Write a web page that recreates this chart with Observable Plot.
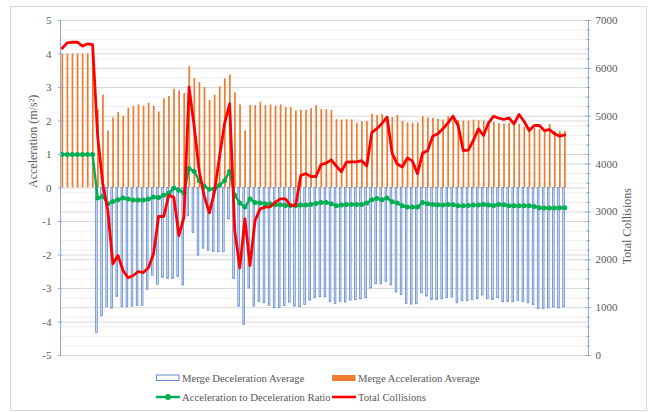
<!DOCTYPE html>
<html>
<head>
<meta charset="utf-8">
<script src="https://cdn.jsdelivr.net/npm/d3@7"></script>
<script src="https://cdn.jsdelivr.net/npm/@observablehq/plot@0.6"></script>
<style>
  html, body { margin: 0; padding: 0; background: #fff; }
  #wrap { position: relative; width: 651px; height: 412px; font-family: "Liberation Serif", "Times New Roman", serif; }
  #frame { position: absolute; left: 10px; top: 6px; width: 637px; height: 405px; box-sizing: border-box; border: 1px solid #d9d9d9; }
  #chart { position: absolute; left: 0; top: 0; }
  #legend { position: absolute; left: 156px; top: 369px; display: grid; grid-template-columns: 176px auto; grid-auto-rows: 18.5px; font-size: 10.7px; color: #595959; font-family: "Liberation Serif", serif; }
  .it { display: flex; align-items: center; white-space: nowrap; }
  .sw { width: 24px; height: 10px; margin-right: 2px; flex: none; }
</style>
</head>
<body>
<div id="wrap">
  <div id="frame"></div>
  <div id="chart"></div>
  <div id="legend"></div>
</div>
<script>
// ---- data ----
const seriesNames = ["Merge Deceleration Average", "Merge Acceleration Average", "Acceleration to Deceleration Ratio", "Total Collisions"];
const leftTitle = "Acceleration (m/s²)";
const rightTitle = "Total Collisions";
const leftTicks = [-5, -4, -3, -2, -1, 0, 1, 2, 3, 4, 5];
const rightTicks = [0, 1000, 2000, 3000, 4000, 5000, 6000, 7000];
const rightMinorTicks = [200,400,600,800,1200,1400,1600,1800,2200,2400,2600,2800,3200,3400,3600,3800,4200,4400,4600,4800,5200,5400,5600,5800,6200,6400,6600,6800];
const slotCount = 104; // category slots on the axis (last ones empty)

const accel = [4.0,4.0,4.0,4.0,4.0,4.0,4.0,2.33,2.77,1.70,2.09,2.25,2.14,2.38,2.44,2.48,2.44,2.53,2.44,2.27,
  2.66,2.73,2.95,2.89,2.82,3.62,3.27,3.15,3.00,2.61,2.77,3.02,3.26,3.37,2.84,2.48,1.71,2.46,2.46,2.56,
  2.46,2.48,2.44,2.48,2.40,2.40,2.30,2.32,2.32,2.37,2.46,2.34,2.34,2.31,2.04,2.03,2.04,2.03,1.93,1.98,
  1.98,2.20,2.16,2.19,2.14,2.10,2.16,1.99,1.94,1.93,1.94,2.13,2.09,2.08,2.05,2.03,2.12,2.01,2.01,2.00,
  2.00,2.03,2.01,2.00,1.94,1.96,1.92,1.90,1.93,1.90,1.90,1.81,1.79,1.78,1.74,1.74,1.90,1.68,1.68,1.68];

const decel = [null,null,null,null,null,null,null,-4.33,-3.83,-3.55,-3.60,-3.25,-3.56,-3.56,-3.54,-3.52,-3.52,-3.04,-2.62,-2.89,
  -2.68,-2.71,-2.71,-2.65,-2.91,-0.84,-1.34,-2.02,-1.81,-1.87,-1.91,-1.92,-1.92,-0.94,-2.71,-3.54,-4.09,-3.00,-3.54,-3.40,
  -3.44,-3.52,-3.59,-3.59,-3.52,-3.42,-3.54,-3.56,-3.49,-3.36,-3.29,-3.26,-3.26,-3.40,-3.46,-3.40,-3.42,-3.36,-3.34,-3.32,
  -3.29,-3.00,-2.87,-2.88,-2.80,-2.91,-3.12,-3.20,-3.46,-3.48,-3.47,-3.14,-3.24,-3.34,-3.34,-3.32,-3.29,-3.27,-3.44,-3.38,
  -3.38,-3.34,-3.32,-3.21,-3.32,-3.34,-3.29,-3.41,-3.40,-3.41,-3.37,-3.41,-3.44,-3.50,-3.62,-3.61,-3.59,-3.56,-3.59,-3.56];

const ratio = [1.0,1.0,1.0,1.0,1.0,1.0,1.0,-0.30,-0.25,-0.47,-0.40,-0.35,-0.30,-0.33,-0.36,-0.36,-0.36,-0.33,-0.27,-0.28,
  -0.22,-0.16,0.0,-0.07,-0.14,0.58,0.50,0.22,0.05,-0.04,-0.02,0.08,0.22,0.50,-0.22,-0.45,-0.57,-0.33,-0.43,-0.45,
  -0.47,-0.48,-0.50,-0.50,-0.52,-0.52,-0.52,-0.51,-0.51,-0.49,-0.46,-0.43,-0.43,-0.47,-0.53,-0.51,-0.49,-0.49,-0.49,-0.49,
  -0.45,-0.35,-0.31,-0.35,-0.30,-0.41,-0.45,-0.53,-0.57,-0.57,-0.57,-0.43,-0.47,-0.49,-0.50,-0.51,-0.49,-0.50,-0.53,-0.53,
  -0.52,-0.51,-0.51,-0.49,-0.51,-0.52,-0.49,-0.50,-0.53,-0.53,-0.53,-0.53,-0.53,-0.55,-0.59,-0.60,-0.60,-0.60,-0.59,-0.59];

const collisions = [6421,6533,6546,6546,6463,6512,6498,4580,3590,3030,1916,2089,1776,1623,1672,1755,1734,1832,2124,2904,
  2904,3343,3308,2507,2890,5606,4800,3850,3330,2980,3420,4150,4850,5260,2611,1832,2856,1880,2821,3065,
  3100,3107,3204,3274,3274,3134,3134,3761,3800,3740,3740,3990,4020,4088,3960,3840,4040,4045,4045,4070,
  3960,4660,4740,4850,4980,4230,4000,3940,4130,4060,3800,4227,4283,4582,4632,4736,4862,5000,4806,4283,
  4290,4493,4736,4597,4862,5000,4958,4931,4966,4841,5035,4889,4701,4806,4806,4701,4722,4632,4582,4611];

// ---- colours ----
const C = { blueStroke: "#6189d4", blueFill: "#d6e1f5", orange: "#ed7d31", green: "#00b050", red: "#ff0000", axis: "#8eaadb", grid: "#d9d9d9", gridMinor: "#eeeeee", text: "#595959" };
const SERIF = "'Liberation Serif', 'Times New Roman', serif";

// right axis (collisions 0..7000) shares the plot's y scale (-5..5)
const toLeft = c => c / 700 - 5;
const fromLeft = v => Math.round((v + 5) * 700);

const data = accel.map((a, i) => ({ i, acc: a, dec: decel[i], ratio: ratio[i], col: collisions[i] }));
const xDomain = [-0.32, slotCount - 0.32];

const plot = Plot.plot({
  width: 651,
  height: 362,
  marginLeft: 60,
  marginRight: 63,
  marginTop: 20,
  marginBottom: 7,
  x: { type: "linear", domain: xDomain, axis: null },
  y: { domain: [-5, 5], axis: null },
  style: { fontFamily: SERIF, fontSize: "11px", color: C.text, background: "transparent", overflow: "visible" },
  marks: [
    Plot.ruleY(rightMinorTicks, { y: toLeft, stroke: C.gridMinor, strokeWidth: 1 }),
    Plot.ruleY(rightTicks, { y: toLeft, stroke: C.grid, strokeWidth: 1 }),
    Plot.ruleY(leftTicks, { stroke: C.grid, strokeWidth: 1 }),
    Plot.rect(data.filter(d => d.dec != null), { x1: d => d.i - 0.30, x2: d => d.i + 0.02, y1: 0, y2: "dec", fill: C.blueFill, stroke: C.blueStroke, strokeWidth: 0.8 }),
    Plot.rect(data, { x1: d => d.i - 0.03, x2: d => d.i + 0.31, y1: 0, y2: "acc", fill: C.orange }),
    Plot.line(data, { x: "i", y: "ratio", stroke: C.green, strokeWidth: 2.4 }),
    Plot.dot(data, { x: "i", y: "ratio", r: 2.5, fill: C.green }),
    Plot.line(data, { x: "i", y: d => toLeft(d.col), stroke: C.red, strokeWidth: 2.8, strokeLinejoin: "round" }),
    // axis lines
    Plot.ruleX([xDomain[0]], { stroke: C.axis, strokeWidth: 1 }),
    Plot.ruleX([xDomain[1]], { stroke: C.axis, strokeWidth: 1 }),
    // tick marks
    Plot.ruleY(leftTicks, { x1: xDomain[0] - 0.4, x2: xDomain[0] + 0.4, stroke: C.axis }),
    Plot.ruleY(rightTicks, { y: toLeft, x1: xDomain[1] - 0.55, x2: xDomain[1] + 0.55, stroke: C.axis }),
    Plot.ruleY(rightMinorTicks, { y: toLeft, x1: xDomain[1] - 0.35, x2: xDomain[1] + 0.35, stroke: C.axis }),
    // tick labels
    Plot.axisY(leftTicks, { anchor: "left", tickSize: 0, tickPadding: 9, tickFormat: d => String(d), fontSize: 11, fontFamily: SERIF, fill: C.text, label: null }),
    Plot.axisY(rightTicks.map(toLeft), { anchor: "right", tickSize: 0, tickPadding: 7, tickFormat: v => String(fromLeft(v)), fontSize: 11, fontFamily: SERIF, fill: C.text, label: null }),
    // axis titles
    Plot.text([leftTitle], { frameAnchor: "left", dx: -27, rotate: -90, fontSize: 12, fontFamily: SERIF, fill: C.text }),
    Plot.text([rightTitle], { frameAnchor: "right", dx: 39, rotate: -90, fontSize: 12, fontFamily: SERIF, fill: C.text })
  ]
});
document.getElementById("chart").appendChild(plot);

// ---- legend ----
const swatches = [
  `<svg class="sw" viewBox="0 0 24 10"><rect x="0.5" y="2" width="22.5" height="5.5" fill="#fff" stroke="${C.blueStroke}" stroke-width="1"/></svg>`,
  `<svg class="sw" viewBox="0 0 24 10"><rect x="0" y="2" width="23.5" height="6" fill="${C.orange}"/></svg>`,
  `<svg class="sw" viewBox="0 0 24 10"><line x1="0" y1="5" x2="24" y2="5" stroke="${C.green}" stroke-width="2.4"/><circle cx="12" cy="5" r="3" fill="${C.green}"/></svg>`,
  `<svg class="sw" viewBox="0 0 24 10"><line x1="0" y1="5" x2="24" y2="5" stroke="${C.red}" stroke-width="2.6"/></svg>`
];
const legend = document.getElementById("legend");
seriesNames.forEach((name, k) => {
  const item = document.createElement("div");
  item.className = "it";
  item.innerHTML = swatches[k];
  item.appendChild(document.createTextNode(name));
  legend.appendChild(item);
});
</script>
</body>
</html>
